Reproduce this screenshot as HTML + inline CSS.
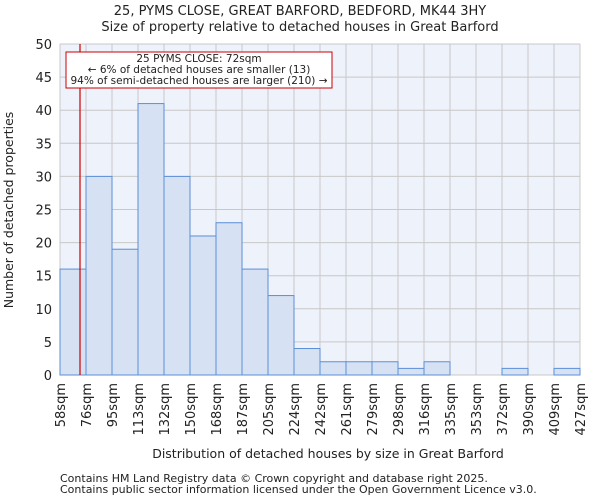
<!DOCTYPE html>
<html><head><meta charset="utf-8"><style>
body{margin:0;background:#fff;font-family:"DejaVu Sans","Liberation Sans",sans-serif}
text{font-family:"DejaVu Sans","Liberation Sans",sans-serif;fill:#222}
</style></head><body>
<svg id="chart" width="600" height="500" xmlns="http://www.w3.org/2000/svg">
<text x="300" y="15" text-anchor="middle" font-size="13">25, PYMS CLOSE, GREAT BARFORD, BEDFORD, MK44 3HY</text>
<text x="300" y="31" text-anchor="middle" font-size="13">Size of property relative to detached houses in Great Barford</text>
<rect x="60" y="44" width="520" height="331" fill="#eef2fb"/>
<g id="grid"></g><g id="bars"></g><g id="axes"></g>
<line x1="80" y1="44" x2="80" y2="375" stroke="#cc0000" stroke-width="1.2"/>
<rect x="66" y="52" width="266" height="36" fill="#fff" stroke="#cc0000" stroke-width="1"/>
<text x="199" y="62" text-anchor="middle" font-size="10.5">25 PYMS CLOSE: 72sqm</text>
<text x="199" y="73" text-anchor="middle" font-size="10.5">← 6% of detached houses are smaller (13)</text>
<text x="199" y="84" text-anchor="middle" font-size="10.5">94% of semi-detached houses are larger (210) →</text>
<text x="328" y="458" text-anchor="middle" font-size="12.5">Distribution of detached houses by size in Great Barford</text>
<text transform="translate(13,210) rotate(-90)" text-anchor="middle" font-size="12.5">Number of detached properties</text>
<text x="60" y="482" font-size="11" fill="#444">Contains HM Land Registry data © Crown copyright and database right 2025.</text>
<text x="60" y="493" font-size="11" fill="#444">Contains public sector information licensed under the Open Government Licence v3.0.</text>
</svg>
<script>
const categories=["58sqm","76sqm","95sqm","113sqm","132sqm","150sqm","168sqm","187sqm","205sqm","224sqm","242sqm","261sqm","279sqm","298sqm","316sqm","335sqm","353sqm","372sqm","390sqm","409sqm","427sqm"];
const counts=[16,30,19,41,30,21,23,16,12,4,2,2,2,1,2,0,0,1,0,1];
const yTicks=[0,5,10,15,20,25,30,35,40,45,50];
const NS="http://www.w3.org/2000/svg";
const L=60,R=580,T=44,B=375,yMax=50;
const n=counts.length,bw=(R-L)/n;
const x=i=>L+i*bw, y=v=>B-(v/yMax)*(B-T);
function mk(tag,attrs,parent){const e=document.createElementNS(NS,tag);for(const k in attrs)e.setAttribute(k,attrs[k]);parent.appendChild(e);return e;}
const grid=document.getElementById('grid'),bars=document.getElementById('bars'),axes=document.getElementById('axes');
yTicks.forEach(t=>{
 const g=mk('line',{x1:L,x2:R,y1:y(t),y2:y(t),stroke:'#c8c8c8','stroke-width':1},grid);
 
 
 const tx=mk('text',{x:L-8,y:y(t)+5,'text-anchor':'end','font-size':13},axes);
 tx.textContent=t;
 
 
});
categories.forEach((c,i)=>{
 const g=mk('line',{x1:x(i),x2:x(i),y1:T,y2:B,stroke:'#c8c8c8','stroke-width':1},grid);
 
 
 const tx=mk('text',{transform:`translate(${x(i)+5},${B+8}) rotate(-90)`,'text-anchor':'end','font-size':13},axes);
 tx.textContent=c;
 
 
});
counts.forEach((v,i)=>{
 if(v<=0)return;
 const r=mk('rect',{x:x(i),y:y(v),width:bw,height:B-y(v),fill:'#d6e1f4',stroke:'#5b8fd6','stroke-width':1},bars);
 
 
});
</script>
</body></html>
